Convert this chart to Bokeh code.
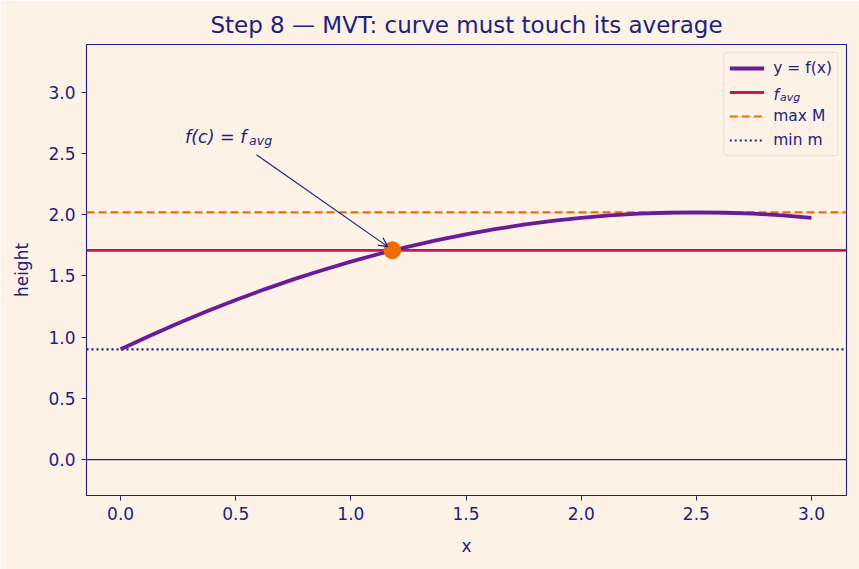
from bokeh.plotting import figure
from bokeh.models import (Range1d, FixedTicker, PrintfTickFormatter, Span, Label,
                          Arrow, OpenHead, Legend, LegendItem)
from bokeh.core.properties import value
from bokeh.embed import file_html
from bokeh.resources import INLINE

# Curve samples y = f(x) on [0, 3]
x_vals = [0.0, 0.125, 0.25, 0.375, 0.5, 0.625, 0.75, 0.875, 1.0, 1.125, 1.25, 1.375,
          1.5, 1.625, 1.75, 1.875, 2.0, 2.125, 2.25, 2.375, 2.5, 2.625, 2.75, 2.875, 3.0]
y_vals = [0.901, 1.010, 1.114, 1.212, 1.304, 1.391, 1.472, 1.547, 1.617, 1.682, 1.740, 1.793,
          1.841, 1.883, 1.919, 1.950, 1.975, 1.995, 2.009, 2.017, 2.020, 2.017, 2.009, 1.995, 1.975]

f_avg = 1.71      # average value of f on [0, 3]
max_M = 2.02      # maximum of f
min_m = 0.90      # minimum of f
c_x = 1.18        # point where f(c) = f_avg

x_ticks = [0.0, 0.5, 1.0, 1.5, 2.0, 2.5, 3.0]
y_ticks = [0.0, 0.5, 1.0, 1.5, 2.0, 2.5, 3.0]
X_LIM = (-0.148, 3.152)
Y_LIM = (-0.294, 3.392)

BG = "#fef1e6"
NAVY = "#1a237e"
PURPLE = "#6a1b9a"
PINK = "#c2185b"
ORANGE = "#ef6c00"
FONT = "DejaVu Sans"

p = figure(width=859, height=569, output_backend="svg", toolbar_location=None,
           x_range=Range1d(*X_LIM), y_range=Range1d(*Y_LIM),
           min_border_left=86, min_border_right=13, min_border_top=44, min_border_bottom=74,
           title="Step 8 \u2014 MVT: curve must touch its average")
p.background_fill_color = BG
p.border_fill_color = BG
p.outline_line_color = NAVY
p.outline_line_width = 1.1
p.grid.visible = False

p.title.align = "center"
p.title.text_color = NAVY
p.title.text_font = FONT
p.title.text_font_size = "23px"
p.title.text_font_style = "normal"
p.title.standoff = 14

for ax in (p.xaxis[0], p.yaxis[0]):
    ax.axis_line_color = None
    ax.major_tick_line_color = NAVY
    ax.major_tick_out = 5
    ax.major_tick_in = 0
    ax.minor_tick_line_color = None
    ax.major_label_text_color = NAVY
    ax.major_label_text_font = FONT
    ax.major_label_text_font_size = "17px"
    ax.axis_label_text_color = NAVY
    ax.axis_label_text_font = FONT
    ax.axis_label_text_font_size = "17px"
    ax.axis_label_text_font_style = "normal"
    ax.formatter = PrintfTickFormatter(format="%.1f")

p.xaxis.ticker = FixedTicker(ticks=x_ticks)
p.yaxis.ticker = FixedTicker(ticks=y_ticks)
p.xaxis.axis_label = "x"
p.yaxis.axis_label = "height"
p.xaxis.major_label_standoff = 6
p.yaxis.major_label_standoff = 6
p.xaxis.axis_label_standoff = 13
p.yaxis.axis_label_standoff = 13

# baseline at y = 0
p.add_layout(Span(location=0, dimension="width", line_color=NAVY, line_width=1.3))

# reference levels across the full view
r_max = p.line(list(X_LIM), [max_M, max_M], line_color=ORANGE, line_width=2.1, line_dash="8 4")
r_min = p.line(list(X_LIM), [min_m, min_m], line_color=NAVY, line_width=2.1, line_dash="2 3")
r_avg = p.line(list(X_LIM), [f_avg, f_avg], line_color=PINK, line_width=2.8)
r_f = p.line(x_vals, y_vals, line_color=PURPLE, line_width=3.8)

p.scatter([c_x], [f_avg], size=17, marker="circle", fill_color=ORANGE, line_color=ORANGE)

# annotation f(c) = f_avg with arrow
p.add_layout(Arrow(end=OpenHead(size=9, line_color=NAVY, line_width=1.2),
                   x_start=0.59, y_start=2.49, x_end=c_x - 0.02, y_end=f_avg + 0.03,
                   line_color=NAVY, line_width=1.2))
p.add_layout(Label(x=0.28, y=2.64, text="f(c) = f", text_font=FONT, text_baseline="alphabetic",
                   text_font_style="italic", text_font_size="17.5px", text_color=NAVY))
p.add_layout(Label(x=0.558, y=2.64, text="avg", text_font=FONT, y_offset=-4,
                   text_baseline="alphabetic",
                   text_font_style="italic", text_font_size="12.5px", text_color=NAVY))

legend = Legend(items=[
    LegendItem(label="y = f(x)", renderers=[r_f]),
    LegendItem(label=value("     "), renderers=[r_avg]),
    LegendItem(label="max M", renderers=[r_max]),
    LegendItem(label="min m", renderers=[r_min]),
], location="top_right")
legend.margin = 8
legend.padding = 5
legend.spacing = 4
legend.glyph_width = 35
legend.glyph_height = 20
legend.label_height = 20
legend.label_standoff = 9
legend.label_text_font = FONT
legend.label_text_font_size = "15.5px"
legend.label_text_color = NAVY
legend.background_fill_alpha = 0
legend.border_line_color = "#d0ccc8"
legend.border_line_width = 1
legend.border_radius = 3
p.add_layout(legend)

# subscripted legend label for f_avg
p.add_layout(Label(x=2.835, y=2.983, text="f", text_font=FONT, text_baseline="alphabetic",
                   text_font_style="italic", text_font_size="15.5px", text_color=NAVY))
p.add_layout(Label(x=2.863, y=2.983, text="avg", text_font=FONT, y_offset=-3,
                   text_baseline="alphabetic",
                   text_font_style="italic", text_font_size="11px", text_color=NAVY))

open("out.html", "w").write(file_html(p, INLINE))
